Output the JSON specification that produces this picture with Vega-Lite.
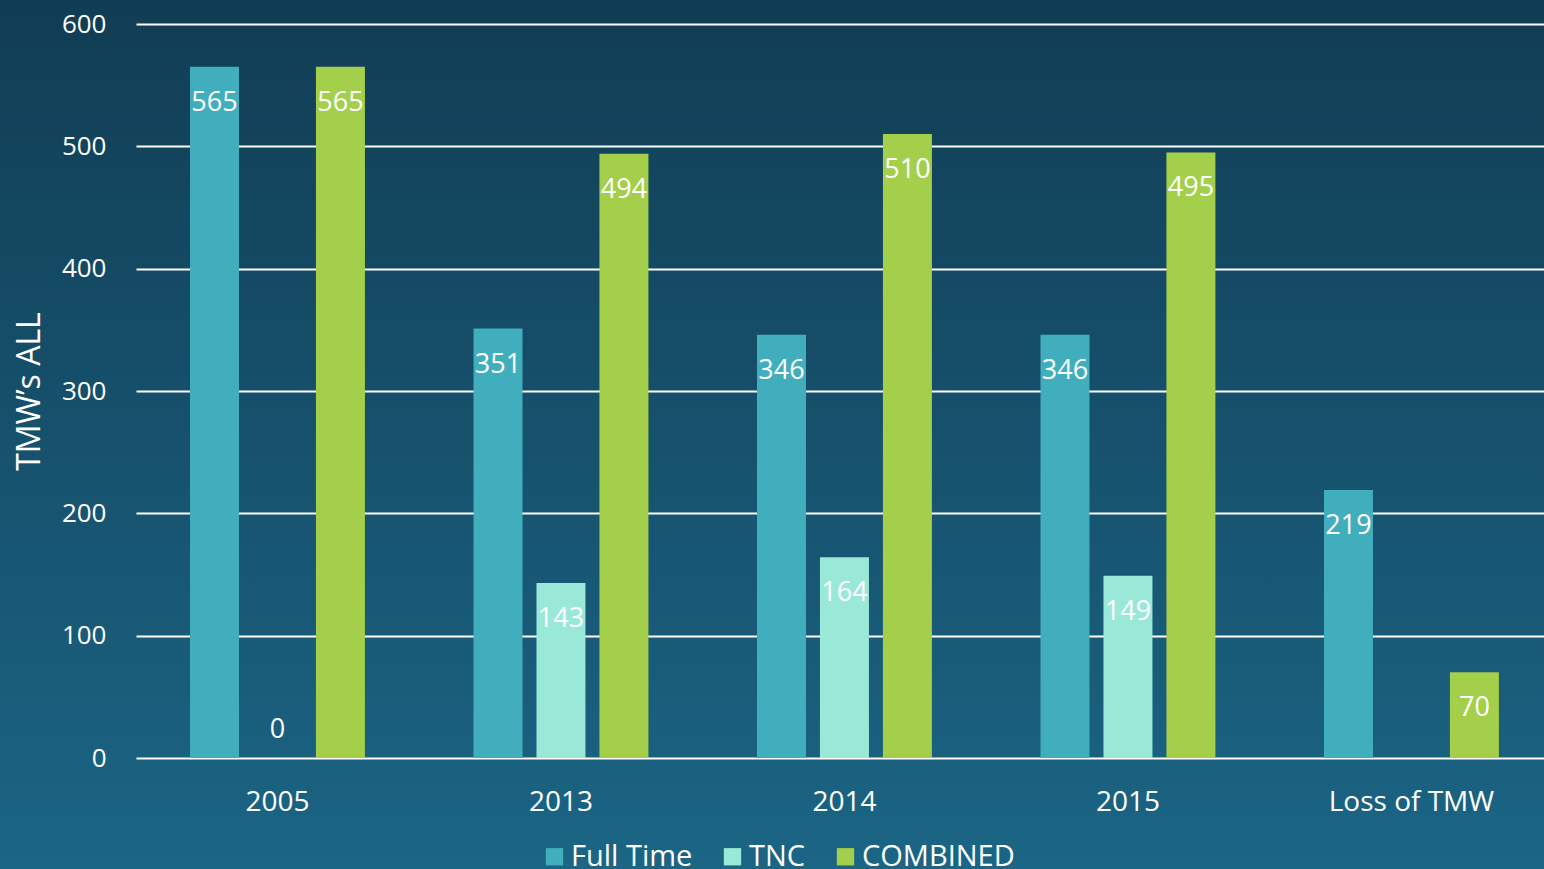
{
  "$schema": "https://vega.github.io/schema/vega-lite/v6.json",
  "width": 1544,
  "height": 869,
  "autosize": {"type": "none"},
  "padding": 0,
  "background": "#164f6c",
  "config": {
    "view": {
      "stroke": null,
      "fill": {
        "gradient": "linear",
        "x1": 0, "y1": 0, "x2": 0, "y2": 1,
        "stops": [
          {"offset": 0, "color": "#113d54"},
          {"offset": 1, "color": "#1b6585"}
        ]
      }
    },
    "font": "Open Sans",
    "text": {"font": "Open Sans"}
  },
  "data": {
    "values": [
      {"year": "2005", "series": "Full Time", "value": 565},
      {"year": "2005", "series": "TNC", "value": 0},
      {"year": "2005", "series": "COMBINED", "value": 565},
      {"year": "2013", "series": "Full Time", "value": 351},
      {"year": "2013", "series": "TNC", "value": 143},
      {"year": "2013", "series": "COMBINED", "value": 494},
      {"year": "2014", "series": "Full Time", "value": 346},
      {"year": "2014", "series": "TNC", "value": 164},
      {"year": "2014", "series": "COMBINED", "value": 510},
      {"year": "2015", "series": "Full Time", "value": 346},
      {"year": "2015", "series": "TNC", "value": 149},
      {"year": "2015", "series": "COMBINED", "value": 495},
      {"year": "Loss of TMW", "series": "Full Time", "value": 219},
      {"year": "Loss of TMW", "series": "COMBINED", "value": 70}
    ]
  },
  "encoding": {
    "x": {
      "field": "year",
      "type": "nominal",
      "sort": ["2005", "2013", "2014", "2015", "Loss of TMW"],
      "scale": {"range": [136, 1544], "paddingInner": 0.383, "paddingOuter": 0.1748, "align": 0.545},
      "axis": {
        "title": null,
        "labelAngle": 0,
        "domain": false,
        "ticks": false,
        "offset": -111,
        "labelPadding": 30,
        "labelFontSize": 28,
        "labelColor": "#ffffff",
        "labelFont": "Open Sans"
      }
    },
    "xOffset": {
      "field": "series",
      "type": "nominal",
      "sort": ["Full Time", "TNC", "COMBINED"],
      "scale": {"paddingInner": 0.222, "paddingOuter": 0}
    },
    "y": {
      "field": "value",
      "type": "quantitative",
      "scale": {"domain": [0, 600], "range": [758, 24]},
      "axis": {
        "title": "TMW’s ALL",
        "titleFontSize": 32,
        "titleFontWeight": "normal",
        "titleColor": "#ffffff",
        "titleFont": "Open Sans",
        "titleX": -90,
        "titleY": 391,
        "titlePadding": 0,
        "offset": -136,
        "values": [0, 100, 200, 300, 400, 500, 600],
        "domain": false,
        "ticks": false,
        "labelPadding": 30,
        "labelFontSize": 26,
        "labelColor": "#ffffff",
        "labelFont": "Open Sans",
        "grid": true,
        "gridColor": "#ffffff",
        "gridWidth": 2,
        "gridOpacity": 1
      }
    }
  },
  "layer": [
    {
      "mark": {"type": "bar"},
      "encoding": {
        "color": {
          "field": "series",
          "type": "nominal",
          "scale": {
            "domain": ["Full Time", "TNC", "COMBINED"],
            "range": ["#41aebd", "#99e8d8", "#a3cf4a"]
          },
          "legend": {
            "title": null,
            "orient": "none",
            "direction": "horizontal",
            "legendX": 540,
            "legendY": 842,
            "symbolType": "square",
            "symbolSize": 300,
            "symbolStrokeWidth": 0,
            "symbolOpacity": 1,
            "labelFontSize": 29,
            "labelColor": "#ffffff",
            "labelFont": "Open Sans",
            "columnPadding": 25,
            "labelOffset": 2
          }
        }
      }
    },
    {
      "transform": [{"filter": "datum.value > 0"}],
      "mark": {"type": "text", "baseline": "middle", "dy": 36, "fontSize": 27, "color": "#ffffff", "font": "Open Sans"},
      "encoding": {"text": {"field": "value", "type": "quantitative"}}
    },
    {
      "transform": [{"filter": "datum.value == 0"}],
      "mark": {"type": "text", "baseline": "middle", "dy": -28, "fontSize": 27, "color": "#ffffff", "font": "Open Sans"},
      "encoding": {"text": {"field": "value", "type": "quantitative"}}
    }
  ]
}
